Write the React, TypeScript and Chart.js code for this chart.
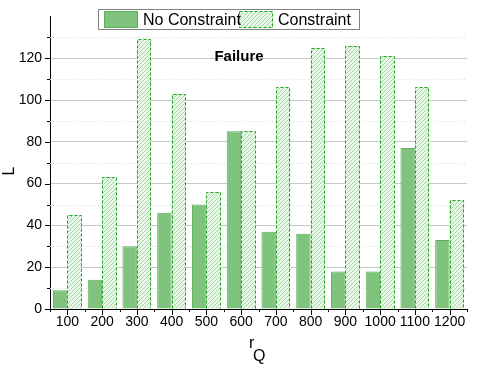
import React, { useEffect, useRef } from "react";
import { Chart, registerables } from "chart.js";

Chart.register(...registerables);

const categories = ["100", "200", "300", "400", "500", "600", "700", "800", "900", "1000", "1100", "1200"];
const noConstraint = [9, 14, 30, 46, 50, 85, 37, 36, 18, 18, 77, 33];
const constraint = [45, 63, 129, 103, 56, 85, 106, 125, 126, 121, 106, 52];
const seriesNames = ["No Constraint", "Constraint"];
const yMax = 140;
const yStep = 20;
const yMinorStep = 10;
const annotationText = "Failure";

const FONT = "'Liberation Sans', Arial, sans-serif";
const NC_FILL = "rgb(127,195,127)";
const NC_BORDER = "rgb(92,176,92)";
const C_BORDER = "rgb(30,165,30)";

function makeHatch(): CanvasPattern | string {
  const size = 4;
  const c = document.createElement("canvas");
  c.width = size;
  c.height = size;
  const g = c.getContext("2d");
  if (!g) return "rgb(235,245,235)";
  const img = g.createImageData(size, size);
  for (let yy = 0; yy < size; yy++) {
    for (let xx = 0; xx < size; xx++) {
      const i = (yy * size + xx) * 4;
      const onLine = (xx + yy) % size === size - 1;
      if (onLine) {
        img.data[i] = 165;
        img.data[i + 1] = 218;
        img.data[i + 2] = 165;
      } else {
        img.data[i] = 234;
        img.data[i + 1] = 247;
        img.data[i + 2] = 234;
      }
      img.data[i + 3] = 255;
    }
  }
  g.putImageData(img, 0, 0);
  const p = g.createPattern(c, "repeat");
  return p || "rgb(235,245,235)";
}

export default function App() {
  const ref = useRef<HTMLCanvasElement | null>(null);

  useEffect(() => {
    document.body.style.margin = "0";
    const canvas = ref.current;
    if (!canvas) return;
    const hatch = makeHatch();

    const decorPlugin = {
      id: "decor",
      beforeDatasetsDraw(chart: any) {
        const { ctx, chartArea } = chart;
        const y = chart.scales.y;
        ctx.save();
        ctx.strokeStyle = "rgb(215,215,215)";
        ctx.lineWidth = 1;
        ctx.setLineDash([1, 2]);
        for (let v = yMinorStep; v < yMax; v += yStep) {
          const py = Math.round(y.getPixelForValue(v)) + 0.5;
          ctx.beginPath();
          ctx.moveTo(chartArea.left, py);
          ctx.lineTo(chartArea.right, py);
          ctx.stroke();
        }
        ctx.restore();
      },
      afterDatasetsDraw(chart: any) {
        const { ctx } = chart;
        const meta = chart.getDatasetMeta(1);
        ctx.save();
        ctx.strokeStyle = C_BORDER;
        ctx.lineWidth = 1;
        ctx.setLineDash([3, 2]);
        meta.data.forEach((bar: any) => {
          const p = bar.getProps(["x", "y", "base", "width"], true);
          const left = Math.round(p.x - p.width / 2) + 0.5;
          const right = Math.round(p.x + p.width / 2) - 0.5;
          const top = Math.round(p.y) + 0.5;
          const bottom = Math.round(p.base) - 0.5;
          ctx.beginPath();
          ctx.moveTo(left, bottom);
          ctx.lineTo(left, top);
          ctx.lineTo(right, top);
          ctx.lineTo(right, bottom);
          ctx.stroke();
        });
        ctx.restore();
      },
      afterDraw(chart: any) {
        const { ctx, chartArea } = chart;
        const x = chart.scales.x;
        const y = chart.scales.y;
        ctx.save();
        ctx.strokeStyle = "#000";
        ctx.lineWidth = 1;
        ctx.setLineDash([]);
        for (let v = 0; v < yMax; v += yMinorStep) {
          const py = Math.round(y.getPixelForValue(v)) + 0.5;
          const len = v % yStep === 0 ? 5 : 3;
          ctx.beginPath();
          ctx.moveTo(chartArea.left, py);
          ctx.lineTo(chartArea.left - len, py);
          ctx.stroke();
        }
        for (let i = 0; i < categories.length; i++) {
          const px = Math.round(x.getPixelForValue(i)) + 0.5;
          ctx.beginPath();
          ctx.moveTo(px, chartArea.bottom);
          ctx.lineTo(px, chartArea.bottom + 6);
          ctx.stroke();
        }
        for (let i = 0; i <= categories.length; i++) {
          const px = Math.round(x.getPixelForValue(i - 0.5)) + 0.5;
          ctx.beginPath();
          ctx.moveTo(px, chartArea.bottom);
          ctx.lineTo(px, chartArea.bottom + 3);
          ctx.stroke();
        }

        ctx.fillStyle = "#000";
        ctx.font = `bold 15px ${FONT}`;
        ctx.textAlign = "center";
        ctx.textBaseline = "alphabetic";
        ctx.fillText(annotationText, 239, 61);

        ctx.font = `16px ${FONT}`;
        ctx.textAlign = "left";
        ctx.fillText("r", 249, 348);
        ctx.fillText("Q", 253, 361);
        ctx.save();
        ctx.translate(14, 171);
        ctx.rotate(-Math.PI / 2);
        ctx.textAlign = "center";
        ctx.fillText("L", 0, 0);
        ctx.restore();

        ctx.fillStyle = "#fff";
        ctx.fillRect(98, 9, 261, 20);
        ctx.strokeStyle = "rgb(130,130,130)";
        ctx.lineWidth = 1;
        ctx.strokeRect(98.5, 9.5, 261, 20);
        ctx.fillStyle = NC_FILL;
        ctx.fillRect(104, 11, 34, 17);
        ctx.strokeStyle = NC_BORDER;
        ctx.strokeRect(104.5, 11.5, 33, 16);
        ctx.fillStyle = hatch as any;
        ctx.fillRect(239, 11, 34, 17);
        ctx.strokeStyle = C_BORDER;
        ctx.setLineDash([3, 2]);
        ctx.strokeRect(239.5, 11.5, 33, 16);
        ctx.setLineDash([]);
        ctx.fillStyle = "#000";
        ctx.font = `16px ${FONT}`;
        ctx.textAlign = "left";
        ctx.fillText(seriesNames[0], 143, 25);
        ctx.fillText(seriesNames[1], 278, 25);
        ctx.restore();
      },
    };

    const chart = new Chart(canvas, {
      type: "bar",
      data: {
        labels: categories,
        datasets: [
          {
            label: seriesNames[0],
            data: noConstraint,
            backgroundColor: NC_FILL,
            borderColor: NC_BORDER,
            borderWidth: 1,
            categoryPercentage: 0.83,
            barPercentage: 1,
          },
          {
            label: seriesNames[1],
            data: constraint,
            backgroundColor: hatch as any,
            borderColor: "rgba(0,0,0,0)",
            borderWidth: 0,
            categoryPercentage: 0.83,
            barPercentage: 1,
          },
        ],
      },
      options: {
        responsive: false,
        animation: false,
        layout: { padding: { top: 15, right: 13, left: 0, bottom: 0 } },
        plugins: {
          legend: { display: false },
          tooltip: { enabled: false },
          title: { display: false },
        },
        scales: {
          x: {
            type: "category",
            offset: true,
            grid: { display: false, drawTicks: false, offset: true },
            border: { display: true, color: "#000", width: 1 },
            ticks: {
              color: "#000",
              font: { family: FONT, size: 14 },
              padding: 5,
              maxRotation: 0,
              autoSkip: false,
            },
            afterFit: (s: any) => {
              s.height = 62;
            },
          },
          y: {
            min: 0,
            max: yMax,
            grid: {
              drawTicks: false,
              color: (c: any) => (c.tick && c.tick.value >= yMax ? "rgba(0,0,0,0)" : "rgb(200,200,200)"),
            },
            border: { display: true, color: "#000", width: 1 },
            ticks: {
              stepSize: yStep,
              color: "#000",
              font: { family: FONT, size: 14 },
              padding: 8,
              callback: (v: any) => (v >= yMax ? "" : String(v)),
            },
            afterFit: (s: any) => {
              s.width = 50;
            },
          },
        },
      },
      plugins: [decorPlugin],
    });

    return () => {
      chart.destroy();
    };
  }, []);

  return (
    <div style={{ width: 480, height: 371 }}>
      <canvas ref={ref} width={480} height={371} />
    </div>
  );
}
